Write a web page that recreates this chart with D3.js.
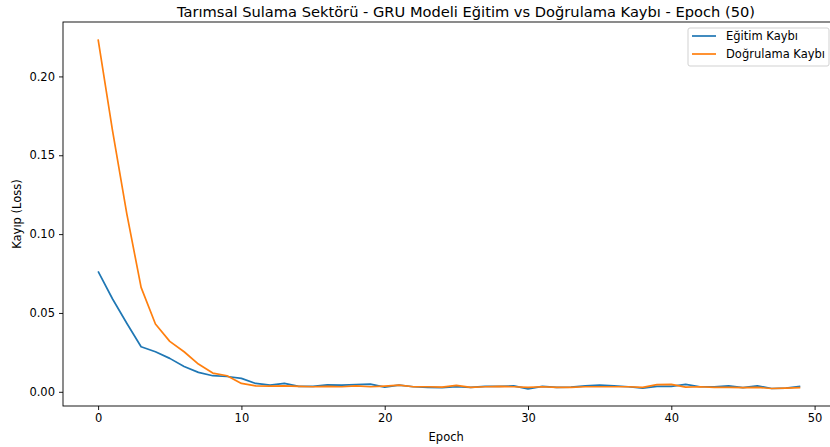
<!DOCTYPE html>
<html><head><meta charset="utf-8">
<script src="https://cdn.jsdelivr.net/npm/d3@7"></script>
<style>body{margin:0;background:#fff;} text{font-family:"DejaVu Sans",sans-serif;}</style>
</head><body><svg id="c" width="830" height="447"></svg>
<script>
const title = "Tarımsal Sulama Sektörü - GRU Modeli Eğitim vs Doğrulama Kaybı - Epoch (50)";
const xLabel = "Epoch";
const yLabel = "Kayıp (Loss)";
const seriesNames = ["Eğitim Kaybı", "Doğrulama Kaybı"];
const epochs = d3.range(50);
const trainLoss = [0.0764,0.059,0.0435,0.0286,0.0254,0.0212,0.016,0.0123,0.0102,0.0097,
  0.0085,0.0053,0.0042,0.0053,0.0034,0.0034,0.0044,0.0042,0.0046,0.0049,
  0.003,0.0042,0.0032,0.0028,0.0026,0.0032,0.0028,0.0034,0.0034,0.0038,
  0.0019,0.0034,0.0028,0.003,0.0038,0.0042,0.0038,0.0032,0.0023,0.0034,
  0.0034,0.0047,0.0032,0.0032,0.0038,0.0026,0.0038,0.0021,0.0023,0.0034];
const valLoss = [0.2235,0.166,0.113,0.0662,0.043,0.032,0.0254,0.0176,0.0119,0.0102,
  0.0053,0.0038,0.0036,0.0038,0.0034,0.0032,0.0034,0.0032,0.0038,0.0032,
  0.0036,0.0042,0.0032,0.0032,0.003,0.0041,0.0028,0.0032,0.0034,0.0032,
  0.0028,0.0032,0.0028,0.0028,0.0032,0.0032,0.0032,0.0032,0.0028,0.0045,
  0.0047,0.003,0.0032,0.0028,0.0028,0.0026,0.0028,0.0021,0.0023,0.0026];
const xTicks = [0,10,20,30,40,50];
const yTicks = [0,0.05,0.10,0.15,0.20];
const colors = ["#1f77b4","#ff7f0e"];

const svg = d3.select("#c");
const L = 63, T = 22, B = 406;
const x = d3.scaleLinear().domain([-2.45, 51.45]).range([L, L + 53.9*14.33]);
const y = d3.scaleLinear().domain([-0.0090, 0.2345]).range([B, T]);
const R = x(51.45);
const fs = 11.5;

svg.append("defs").append("clipPath").attr("id","pc")
  .append("rect").attr("x",L).attr("y",T).attr("width",R-L).attr("height",B-T);

const gx = svg.append("g").attr("transform",`translate(0,${B})`)
  .call(d3.axisBottom(x).tickValues(xTicks).tickFormat(d3.format("d")).tickSize(4).tickPadding(4));
const gy = svg.append("g").attr("transform",`translate(${L},0)`)
  .call(d3.axisLeft(y).tickValues(yTicks).tickFormat(d3.format(".2f")).tickSize(4).tickPadding(4));
[gx,gy].forEach(g=>{
  g.select(".domain").remove();
  g.selectAll("line").attr("stroke","#000").attr("stroke-width",0.9);
  g.selectAll("text").attr("font-size",fs).attr("fill","#000").attr("font-family","DejaVu Sans");
});

const lines = [trainLoss, valLoss];
const lg = d3.line().x((d,i)=>x(epochs[i])).y(d=>y(d));
lines.forEach((s,k)=>{
  svg.append("path").datum(s).attr("d",lg).attr("fill","none")
    .attr("stroke",colors[k]).attr("stroke-width",1.7).attr("stroke-linejoin","round")
    .attr("clip-path","url(#pc)");
});

svg.append("rect").attr("x",L).attr("y",T).attr("width",R-L).attr("height",B-T)
  .attr("fill","none").attr("stroke","#000").attr("stroke-width",0.9);

svg.append("text").attr("x",466).attr("y",16.5).attr("text-anchor","middle")
  .attr("font-size",14.4).attr("textLength",578).attr("lengthAdjust","spacingAndGlyphs").text(title);
svg.append("text").attr("x",(L+R)/2 - 3).attr("y",441).attr("text-anchor","middle")
  .attr("font-size",fs).text(xLabel);
svg.append("text").attr("transform",`translate(21,${(T+B)/2}) rotate(-90)`).attr("text-anchor","middle")
  .attr("font-size",fs).text(yLabel);

const leg = svg.append("g");
leg.append("rect").attr("x",688).attr("y",28).attr("width",141).attr("height",38)
  .attr("rx",2).attr("fill","#fff").attr("fill-opacity",0.8).attr("stroke","#ccc").attr("stroke-width",0.9);
seriesNames.forEach((n,k)=>{
  const yy = 36 + k*18;
  leg.append("line").attr("x1",692).attr("x2",716).attr("y1",yy).attr("y2",yy)
    .attr("stroke",colors[k]).attr("stroke-width",1.7);
  leg.append("text").attr("x",726).attr("y",yy+4).attr("font-size",fs).text(n);
});
</script></body></html>
